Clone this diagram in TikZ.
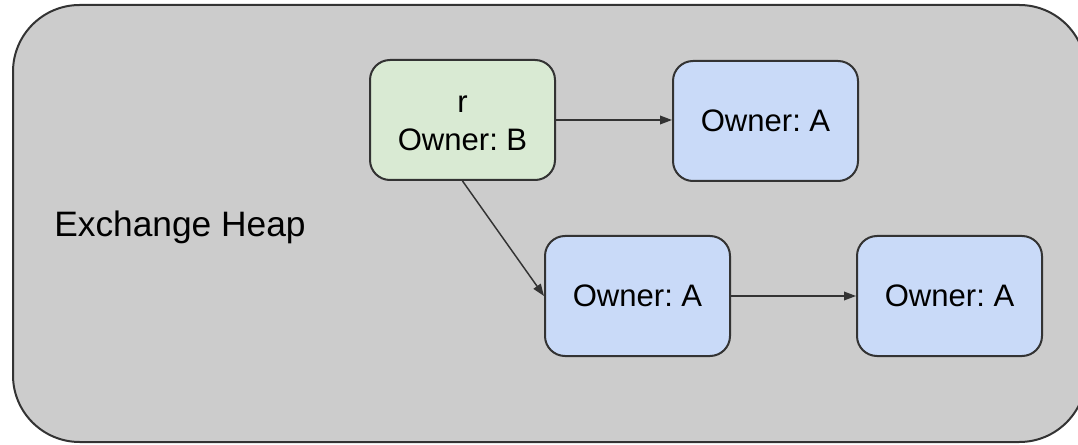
\documentclass[tikz,border=0pt]{standalone}
\usepackage{fontspec}
\setmainfont{Liberation Sans}
\usetikzlibrary{arrows.meta}
\frenchspacing
\definecolor{heapfill}{HTML}{CCCCCC}
\definecolor{ownerB}{HTML}{D9EAD3}
\definecolor{ownerA}{HTML}{C9DAF8}
\definecolor{ink}{HTML}{333333}
\tikzset{
  cellfont/.style={font=\fontsize{23.3}{28.5}\selectfont},
  cell/.style={draw=ink, line width=1.5pt, rounded corners=15pt,
    minimum width=138.75pt, minimum height=90pt, inner sep=0pt,
    align=center, cellfont},
  link/.style={draw=ink, line width=1.1pt, -{Triangle[length=9pt,width=6.5pt]}}
}
\begin{document}
\begin{tikzpicture}[x=0.75pt,y=-0.75pt]
\useasboundingbox (0,0) rectangle (1078,445);
\clip (0,0) rectangle (1078,445);
% the exchange heap region
\draw[draw=ink, line width=1.5pt, fill=heapfill, rounded corners=50pt]
  (13,5) rectangle (1086,442);
\node[anchor=base west, inner sep=0pt, font=\fontsize{26.5}{30}\selectfont]
  (heap) at (54,237) {Exchange Heap};
% boxes on the heap
\node[cell, fill=ownerB] (r) at (462.5,120) {};
\node[cellfont, align=center, inner sep=0pt] (rtext) at (462.5,123) {r\\Owner: B};
\node[cell, fill=ownerA] (a1) at (765.5,121) {Owner: A};
\node[cell, fill=ownerA] (a2) at (637.5,296) {Owner: A};
\node[cell, fill=ownerA] (a3) at (949.5,296) {Owner: A};
% pointers
\draw[link] (r.east) -- (r.east -| a1.west);
\draw[link] (r.south) -- (a2.west);
\draw[link] (a2.east) -- (a3.west);
\end{tikzpicture}
\end{document}
